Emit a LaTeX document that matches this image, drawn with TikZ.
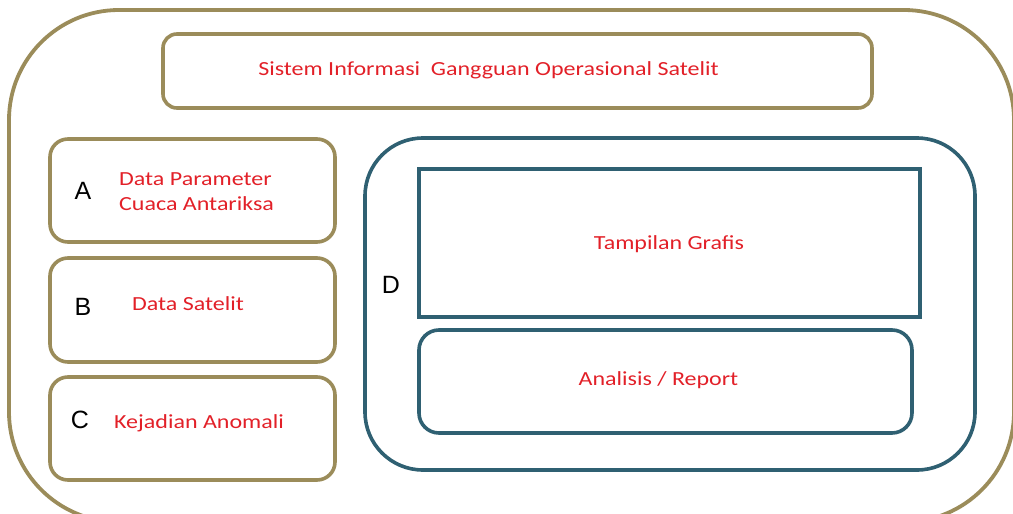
\documentclass[tikz,border=0pt]{standalone}
\usepackage{fontspec}
\setmainfont{Carlito}[FakeStretch=1.2]
\newfontfamily\letterfont{Liberation Sans}
\definecolor{frameolive}{RGB}{155,140,90}
\definecolor{frameteal}{RGB}{47,96,114}
\definecolor{labelred}{RGB}{226,32,40}
\begin{document}
\begin{tikzpicture}[x=1pt,y=-1pt,
  olivebox/.style={draw=frameolive, line width=3.6pt, inner sep=0pt, outer sep=0pt},
  tealbox/.style={draw=frameteal, line width=3.6pt, inner sep=0pt, outer sep=0pt},
  redtext/.style={text=labelred, font=\fontsize{20}{22}\selectfont, inner sep=0pt},
  lettertext/.style={text=black, font=\letterfont\fontsize{25}{27}\selectfont, inner sep=0pt}]
\useasboundingbox (0,0) rectangle (1013,514);
\clip (0,0) rectangle (1013,514);

% outer frame, running past the right and bottom edges
\draw[draw=frameolive, line width=3.8pt, rounded corners=110pt] (9,10) rectangle (1014,522);

% title bar
\node[olivebox, rounded corners=14pt, minimum width=709pt, minimum height=74pt, anchor=north west] (title) at (163,34) {};
\node[redtext, anchor=base] (titletext) at (488.5,75) {Sistem Informasi\ \ Gangguan Operasional Satelit};

% left column: A, B, C
\node[olivebox, rounded corners=18pt, minimum width=285pt, minimum height=103pt, anchor=north west] (boxA) at (50,139) {};
\node[olivebox, rounded corners=18pt, minimum width=285pt, minimum height=104pt, anchor=north west] (boxB) at (50,258) {};
\node[olivebox, rounded corners=18pt, minimum width=285pt, minimum height=103pt, anchor=north west] (boxC) at (50,377) {};

\node[lettertext, anchor=base] (letterA) at (83,199) {A};
\node[redtext, anchor=base west] (textA1) at (119,185) {Data Parameter};
\node[redtext, anchor=base west] (textA2) at (119,210) {Cuaca Antariksa};

\node[lettertext, anchor=base] (letterB) at (83,315) {B};
\node[redtext, anchor=base] (textB) at (188,310) {Data Satelit};

\node[lettertext, anchor=base] (letterC) at (80,428) {C};
\node[redtext, anchor=base west] (textC) at (114,428) {Kejadian Anomali};

% right block: D
\node[tealbox, rounded corners=58pt, minimum width=610pt, minimum height=332pt, anchor=north west] (boxD) at (365,138) {};
\node[lettertext, anchor=base] (letterD) at (391,293) {D};

\node[tealbox, minimum width=501pt, minimum height=148pt, anchor=north west] (graph) at (419,169) {};
\node[redtext, anchor=base] (graphtext) at (669,249) {Tampilan Grafis};

\node[tealbox, rounded corners=20pt, minimum width=493pt, minimum height=103pt, anchor=north west] (report) at (419,330) {};
\node[redtext, anchor=base] (reporttext) at (658.5,385) {Analisis / Report};
\end{tikzpicture}
\end{document}
